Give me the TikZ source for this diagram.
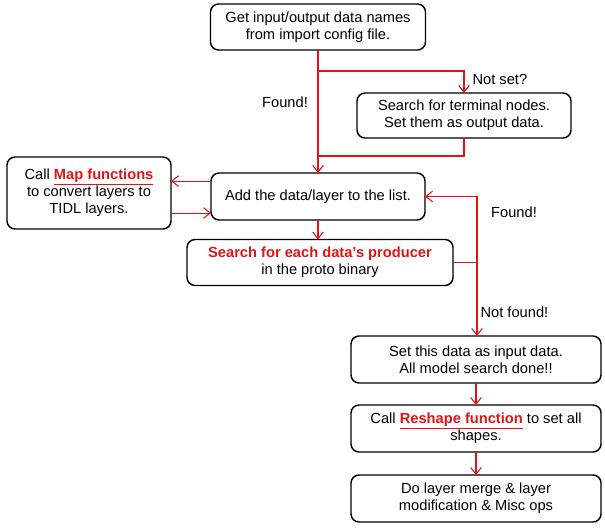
\documentclass[tikz,border=0pt]{standalone}
\usepackage{fontspec}
\setmainfont{Liberation Sans}
\usepackage{xcolor}
\usetikzlibrary{arrows.meta, positioning}
\definecolor{flowred}{RGB}{225,20,20}

\begin{document}
\begin{tikzpicture}[x=0.75pt, y=-0.75pt,
		box/.style = {draw, line width=1.1pt, rounded corners=6pt, align=center,
			inner sep=0pt, outer sep=0pt, font=\fontsize{11}{12.75}\selectfont},
		flow/.style = {draw=flowred, line width=0.8pt},
		arr/.style = {flow, -{Straight Barb[length=5pt, width=8pt]}},
		lbl/.style = {font=\fontsize{11}{12.75}\selectfont, inner sep=1pt}]
				\useasboundingbox (0,0) rectangle (605,527);
				% boxes
				\node[box, minimum width=161.25pt, minimum height=34.5pt] (get) at (318,27) {Get input/output data names\\from import config file.};
				\node[box, minimum width=160.5pt, minimum height=33.75pt] (term) at (464,115.5) {Search for terminal nodes.\\Set them as output data.};
				\node[box, minimum width=123pt, minimum height=54pt] (map) at (89,193) {Call \textcolor{flowred}{\underline{\textbf{Map functions}}}\\to convert layers to\\TIDL layers.};
				\node[box, minimum width=160.5pt, minimum height=35.25pt] (add) at (318,196.5) {Add the data/layer to the list.};
				\node[box, minimum width=199.5pt, minimum height=34.5pt] (prod) at (320,262.5) {\textcolor{flowred}{\textbf{Search for each data’s producer}}\\in the proto binary};
				\node[box, minimum width=187.5pt, minimum height=35.25pt] (inp) at (476,359.5) {Set this data as input data.\\All model search done!!};
				\node[box, minimum width=187.5pt, minimum height=35.25pt] (resh) at (476,428.5) {Call \textcolor{flowred}{\underline{\textbf{Reshape function}}} to set all\\shapes.};
				\node[box, minimum width=187.5pt, minimum height=35.25pt] (misc) at (476,498.5) {Do layer merge \& layer\\modification \& Misc ops};
				% labels
				\node[lbl, anchor = west] (notset) at (471,79) {Not set?};
				\node[lbl] (found1) at (285,102) {Found!};
				\node[lbl] (found2) at (514,212) {Found!};
				\node[lbl, anchor = west] (notfound) at (479,312) {Not found!};
				% connectors
				\coordinate (split) at (318,71);
				\coordinate (join) at (318,156);
				\draw[arr] (get.south) -- (add.north);
				\draw[arr] (split) -| (term.north);
				\draw[flow] (term.south) |- (join);
				\draw[arr] (add.south) -- (add.south |- prod.north);
				\draw[arr] ([yshift=11.6pt]add.west) -- ([yshift=11.6pt]add.west -| map.east);
				\draw[arr] ([yshift=-12.4pt]add.west -| map.east) -- ([yshift=-12.4pt]add.west);
				\draw[arr] (prod.east) -- ++(24,0) coordinate (loop) |- (add.east);
				\draw[arr] (loop) -- (loop |- inp.north);
				\draw[arr] (inp.south) -- (resh.north);
				\draw[arr] (resh.south) -- (misc.north);
			\end{tikzpicture}
\end{document}
